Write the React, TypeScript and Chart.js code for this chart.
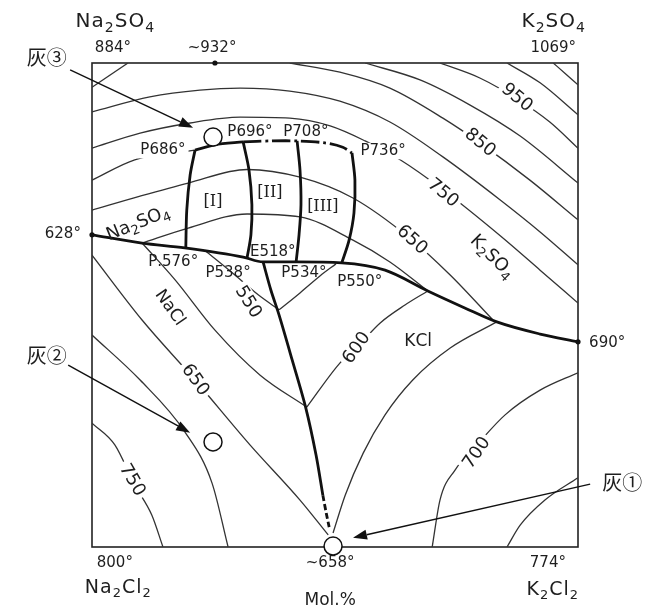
import React, { useEffect, useRef } from 'react';
import { Chart, registerables } from 'chart.js';

Chart.register(...registerables);

// x = mol% K (0 = Na side, 100 = K side), y = mol% SO4 (0 = Cl2 side, 100 = SO4 side)

// ---- isotherms in the sulfate fields (Na2SO4 / solid solution / K2SO4) ----
const sulfateCorner = [[0, 95.0], [7.4, 100]];
const sulfateIso1050 = [[94.9, 100], [97.3, 97.9], [100, 95.5]];
const sulfateIso1000 = [[85.4, 100], [92.2, 95.9], [100, 89.3]];
const sulfateIso950 = [[71.6, 100], [79.8, 96.9], [87.7, 92.4], [94.2, 87.8], [100, 82.4]];
const sulfateIso900 = [[56.2, 100], [67.5, 96.5], [77.8, 91.3], [88.1, 84.9], [100, 75.2]];
const sulfateIso850 = [[40.7, 100], [51.0, 98.1], [61.3, 94.8], [72.2, 88.6], [79.8, 83.5], [90.1, 75.8], [100, 67.6]];
const sulfateIso800 = [[0, 89.9], [11.9, 93.0], [22.2, 94.4], [30.5, 94.8], [40.7, 94.2], [51.0, 92.1], [61.3, 87.8], [72.2, 80.6], [84.0, 71.7], [92.2, 65.1], [100, 58.3]];
const sulfateIso750 = [[0, 82.4], [9.9, 85.5], [20.2, 87.6], [30.5, 88.8], [40.7, 88.6], [49.0, 87.0], [56.2, 83.9], [63.4, 80.0], [72.2, 73.8], [84.0, 64.3], [92.2, 57.2], [100, 50.4]];
const sulfateIso700 = [[0, 75.8], [8.8, 80.0], [21.2, 82.0]];
const sulfateIso650 = [[0, 69.6], [9.9, 72.5], [19.8, 75.2], [31.9, 78.0], [42.8, 76.4], [53.7, 72.1], [65.4, 63.8], [73.7, 56.2], [82.5, 46.9]];
const sulfateIso600 = [[10.3, 62.8], [19.8, 65.9], [31.9, 68.8], [42.8, 68.2], [53.7, 63.4], [61.3, 58.9], [69.1, 52.9]];

// ---- isotherms in the NaCl field ----
const naclIso550 = [[23.3, 61.2], [29.4, 56.2], [34.2, 52.1], [38.5, 49.0]];
const naclIso600 = [[10.3, 62.8], [17.1, 55.2], [25.3, 44.8], [34.6, 35.5], [44.2, 28.9]];
const naclIso650 = [[0, 60.3], [10.3, 46.9], [21.2, 34.5], [32.5, 21.1], [42.8, 9.7], [48.6, 2.5]];
const naclIso700 = [[0, 43.8], [9.9, 34.5], [19.1, 23.8], [24.7, 13.2], [28.0, 0]];
const naclIso750 = [[0, 25.6], [4.7, 21.1], [8.8, 12.8], [12.3, 6.6], [14.6, 0]];

// ---- isotherms in the KCl field ----
const kclIso550 = [[38.5, 49.0], [42.8, 52.5], [46.9, 56.0], [50.2, 58.5]];
const kclIso600 = [[44.2, 28.9], [51.0, 38.0], [54.5, 41.3], [59.3, 46.3], [64.4, 50.0], [69.1, 52.9]];
const kclIso650 = [[49.6, 2.9], [52.1, 10.7], [55.8, 19.4], [60.3, 27.3], [66.0, 34.5], [73.7, 41.1], [83.3, 46.5]];
const kclIso700 = [[70.0, 0], [71.6, 9.7], [74.7, 15.9], [79.2, 21.1], [85.0, 27.3], [92.2, 32.4], [100, 36.0]];
const kclIso750 = [[85.4, 0], [88.1, 4.5], [93.2, 9.7], [100, 14.3]];

// ---- field boundaries ----
const sulfateChlorideBoundary = [[0, 64.5], [10.3, 62.8], [19.1, 61.8], [31.1, 59.9], [35.2, 58.9], [42.2, 58.9], [51.4, 58.7], [60.3, 57.2], [69.1, 52.9], [76.7, 49.4], [83.3, 46.5], [92.2, 44.0], [100, 42.4]];
const naclKclBoundary = [[35.2, 58.9], [36.8, 53.1], [38.5, 47.9], [41.2, 38.6], [44.0, 28.7], [46.1, 19.0], [47.5, 10.7]];
const naclKclBoundaryEnd = [[47.5, 10.7], [48.2, 7.0], [48.8, 4.1]];
const ssLeft = [[21.2, 82.0], [20.2, 76.9], [19.5, 69.6], [19.3, 61.8]];
const ssTopSolid = [[21.2, 82.0], [25.3, 83.1], [31.1, 83.7]];
const ssTopBroken = [[31.1, 83.7], [36.6, 83.9], [42.2, 83.9], [47.9, 83.5], [51.6, 82.6], [53.5, 81.4]];
const ssDivide1 = [[31.1, 83.7], [32.3, 77.9], [32.9, 70.7], [32.7, 64.5], [31.9, 59.7]];
const ssDivide2 = [[42.2, 83.9], [42.8, 77.9], [43.0, 70.7], [42.6, 64.5], [42.0, 58.9]];
const ssRight = [[53.5, 81.4], [54.1, 75.8], [53.9, 69.0], [52.9, 63.4], [51.4, 58.7]];

// ---- special points ----
const meltPoints = [[0, 64.5], [100, 42.4], [25.3, 100]];
const ashSamples = [[24.9, 84.7], [24.9, 21.7], [49.6, 0.2]];
const ashArrows = [[-4.5, 98.6, 20.8, 86.6], [-4.9, 37.6, 20.2, 23.6], [102.5, 13.0, 53.7, 1.9]];

const FONT = '"DejaVu Sans", "Liberation Sans", sans-serif';
const SERIF = '"DejaVu Serif", "Liberation Serif", serif';
const CJK = '"Noto Sans CJK JP", "Noto Sans CJK SC", sans-serif';

type Lbl = { t: string; x: number; y: number; s: number; r?: number; f?: string; bg?: boolean; ls?: number };

const labels: Lbl[] = [
  { t: 'Na_2SO_4', x: 4.7, y: 108.5, s: 20, ls: 1 },
  { t: '884°', x: 4.3, y: 103.1, s: 15 },
  { t: '~932°', x: 24.7, y: 103.1, s: 15 },
  { t: 'K_2SO_4', x: 94.9, y: 108.5, s: 20, ls: 1 },
  { t: '1069°', x: 94.9, y: 103.1, s: 15 },
  { t: '628°', x: -6.0, y: 64.7, s: 15 },
  { t: '690°', x: 106.0, y: 42.1, s: 15 },
  { t: '800°', x: 4.7, y: -3.3, s: 15 },
  { t: 'Na_2Cl_2', x: 5.3, y: -8.5, s: 19, ls: 1 },
  { t: '~658°', x: 49.0, y: -3.3, s: 15 },
  { t: '774°', x: 93.8, y: -3.3, s: 15 },
  { t: 'K_2Cl_2', x: 94.7, y: -8.9, s: 19, ls: 1 },
  { t: 'Mol.%', x: 49.0, y: -11.0, s: 17 },

  { t: 'P686°', x: 14.6, y: 82.0, s: 15, bg: true },
  { t: 'P696°', x: 32.5, y: 85.7, s: 15 },
  { t: 'P708°', x: 44.0, y: 85.7, s: 15 },
  { t: 'P736°', x: 59.9, y: 81.8, s: 15, bg: true },
  { t: 'E518°', x: 37.2, y: 60.9, s: 15 },
  { t: 'P.576°', x: 16.7, y: 58.9, s: 15 },
  { t: 'P538°', x: 28.0, y: 56.6, s: 15 },
  { t: 'P534°', x: 43.6, y: 56.6, s: 15 },
  { t: 'P550°', x: 55.1, y: 54.8, s: 15 },
  { t: '[I]', x: 24.9, y: 71.3, s: 16, f: SERIF },
  { t: '[II]', x: 36.6, y: 73.1, s: 16, f: SERIF },
  { t: '[III]', x: 47.5, y: 70.2, s: 16, f: SERIF },
  { t: 'Na_2SO_4', x: 9.5, y: 66.8, s: 18, r: -22 },
  { t: 'NaCl', x: 16.0, y: 49.4, s: 17, r: 55 },
  { t: '550', x: 32.1, y: 50.6, s: 18, r: 58, bg: true },
  { t: '650', x: 21.2, y: 34.5, s: 18, r: 55, bg: true },
  { t: '750', x: 8.2, y: 13.8, s: 18, r: 60, bg: true },
  { t: '600', x: 54.5, y: 41.1, s: 18, r: -55, bg: true },
  { t: 'KCl', x: 67.1, y: 42.4, s: 17 },
  { t: '700', x: 79.2, y: 19.4, s: 18, r: -55, bg: true },
  { t: '650', x: 65.8, y: 63.4, s: 18, r: 42, bg: true },
  { t: 'K_2SO_4', x: 82.3, y: 59.9, s: 18, r: 45 },
  { t: '750', x: 72.2, y: 73.1, s: 18, r: 40, bg: true },
  { t: '850', x: 79.8, y: 83.5, s: 18, r: 40, bg: true },
  { t: '950', x: 87.4, y: 92.8, s: 18, r: 40, bg: true },

  { t: '灰③', x: -9.3, y: 101.2, s: 20, f: CJK },
  { t: '灰②', x: -9.3, y: 39.5, s: 20, f: CJK },
  { t: '灰①', x: 109.1, y: 13.4, s: 20, f: CJK },
];

function parseRich(t: string) {
  const parts: { c: string; sub: boolean }[] = [];
  for (let i = 0; i < t.length; i++) {
    if (t[i] === '_' && i + 1 < t.length) {
      parts.push({ c: t[i + 1], sub: true });
      i++;
    } else parts.push({ c: t[i], sub: false });
  }
  return parts;
}

function drawLabel(ctx: CanvasRenderingContext2D, l: Lbl, X: number, Y: number) {
  const parts = parseRich(l.t);
  const fam = l.f || FONT;
  const ls = l.ls ?? 0;
  const subSize = Math.round(l.s * 0.7);
  const widths = parts.map((p) => {
    ctx.font = `${p.sub ? subSize : l.s}px ${fam}`;
    return ctx.measureText(p.c).width;
  });
  const w = widths.reduce((a, b) => a + b, 0) + ls * (parts.length - 1);
  ctx.save();
  ctx.translate(X, Y);
  ctx.rotate(((l.r || 0) * Math.PI) / 180);
  if (l.bg) {
    ctx.fillStyle = '#fff';
    ctx.fillRect(-w / 2 - 3, -l.s * 0.55, w + 6, l.s * 1.1);
  }
  ctx.fillStyle = '#1e1e1e';
  ctx.textBaseline = 'middle';
  ctx.textAlign = 'left';
  let cx = -w / 2;
  parts.forEach((p, i) => {
    ctx.font = `${p.sub ? subSize : l.s}px ${fam}`;
    ctx.fillText(p.c, cx, p.sub ? l.s * 0.3 : 0);
    cx += widths[i] + ls;
  });
  ctx.restore();
}

const overlayPlugin = {
  id: 'overlay',
  beforeDatasetsDraw(chart: any) {
    const { ctx, chartArea: ca } = chart;
    ctx.save();
    ctx.strokeStyle = '#222';
    ctx.lineWidth = 1.6;
    ctx.strokeRect(ca.left, ca.top, ca.right - ca.left, ca.bottom - ca.top);
    ctx.restore();
  },
  afterDatasetsDraw(chart: any) {
    const ctx: CanvasRenderingContext2D = chart.ctx;
    const xs = chart.scales.x;
    const ys = chart.scales.y;
    const px = (v: number) => xs.getPixelForValue(v);
    const py = (v: number) => ys.getPixelForValue(v);
    ctx.save();
    labels.forEach((l) => drawLabel(ctx, l, px(l.x), py(l.y)));
    ctx.fillStyle = '#111';
    meltPoints.forEach(([x, y]) => {
      ctx.beginPath();
      ctx.arc(px(x), py(y), 2.6, 0, Math.PI * 2);
      ctx.fill();
    });
    ashArrows.forEach(([x1, y1, x2, y2]) => {
      const a = px(x1), b = py(y1), c = px(x2), d = py(y2);
      const ang = Math.atan2(d - b, c - a);
      const hl = 14, hw = 5;
      const bx = c - hl * Math.cos(ang), by = d - hl * Math.sin(ang);
      ctx.strokeStyle = '#111';
      ctx.lineWidth = 1.4;
      ctx.beginPath();
      ctx.moveTo(a, b);
      ctx.lineTo(bx, by);
      ctx.stroke();
      ctx.fillStyle = '#111';
      ctx.beginPath();
      ctx.moveTo(c, d);
      ctx.lineTo(bx + hw * Math.sin(ang), by - hw * Math.cos(ang));
      ctx.lineTo(bx - hw * Math.sin(ang), by + hw * Math.cos(ang));
      ctx.closePath();
      ctx.fill();
    });
    ashSamples.forEach(([x, y]) => {
      ctx.beginPath();
      ctx.arc(px(x), py(y), 9, 0, Math.PI * 2);
      ctx.fillStyle = '#fff';
      ctx.fill();
      ctx.strokeStyle = '#111';
      ctx.lineWidth = 1.5;
      ctx.stroke();
    });
    ctx.restore();
  },
};

const toPts = (d: number[][]) => d.map(([x, y]) => ({ x, y }));
const thin = (d: number[][]) => ({
  data: toPts(d),
  showLine: true,
  borderColor: '#333',
  borderWidth: 1.3,
  pointRadius: 0,
  cubicInterpolationMode: 'monotone',
  fill: false,
  order: 2,
});
const thick = (d: number[][], dash: number[] = [], smoothMonotone = false) => ({
  data: toPts(d),
  showLine: true,
  borderColor: '#111',
  borderWidth: 2.8,
  borderDash: dash,
  pointRadius: 0,
  tension: 0.3,
  cubicInterpolationMode: smoothMonotone ? 'monotone' : 'default',
  fill: false,
  order: 1,
});

export default function App() {
  const ref = useRef<HTMLCanvasElement | null>(null);
  useEffect(() => {
    if (!ref.current) return;
    const chart = new Chart(ref.current, {
      type: 'scatter',
      data: {
        datasets: [
          thin(sulfateCorner), thin(sulfateIso1050), thin(sulfateIso1000), thin(sulfateIso950),
          thin(sulfateIso900), thin(sulfateIso850), thin(sulfateIso800), thin(sulfateIso750),
          thin(sulfateIso700), thin(sulfateIso650), thin(sulfateIso600),
          thin(naclIso550), thin(naclIso600), thin(naclIso650), thin(naclIso700), thin(naclIso750),
          thin(kclIso550), thin(kclIso600), thin(kclIso650), thin(kclIso700), thin(kclIso750),
          thick(sulfateChlorideBoundary, [], true), thick(naclKclBoundary), thick(naclKclBoundaryEnd, [6, 3]),
          thick(ssLeft), thick(ssTopSolid), thick(ssTopBroken, [18, 4, 3, 4]),
          thick(ssDivide1), thick(ssDivide2), thick(ssRight),
        ] as any,
      },
      options: {
        animation: false,
        responsive: false,
        events: [],
        layout: { padding: { left: 84, top: 55, right: 75, bottom: 63 } },
        plugins: { legend: { display: false }, tooltip: { enabled: false } },
        scales: {
          x: { type: 'linear', min: 0, max: 100, display: false },
          y: { type: 'linear', min: 0, max: 100, display: false },
        },
      } as any,
      plugins: [overlayPlugin],
    });
    return () => chart.destroy();
  }, []);
  return <canvas ref={ref} width={645} height={602} style={{ display: 'block' }} />;
}
